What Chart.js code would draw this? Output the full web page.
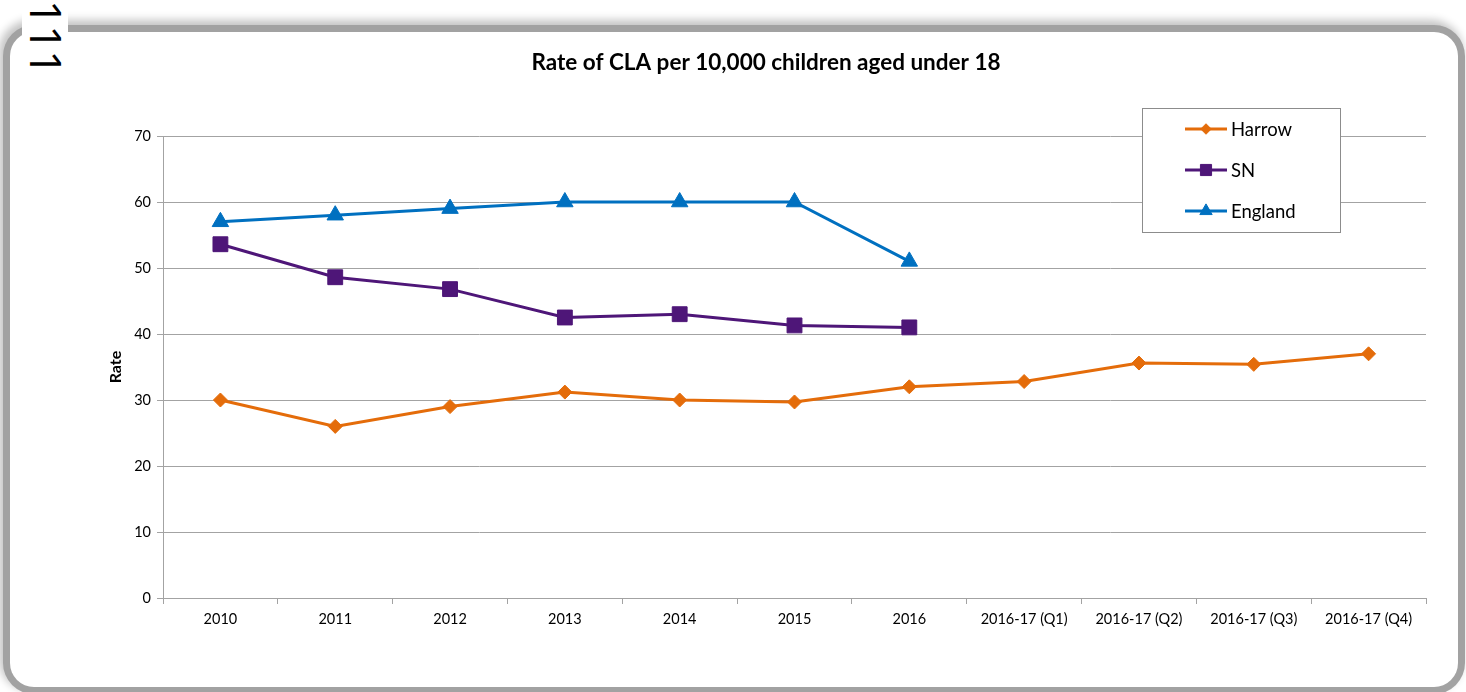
<!DOCTYPE html>
<html>
<head>
<meta charset="utf-8">
<title>Rate of CLA per 10,000 children aged under 18</title>
<script src="https://cdn.jsdelivr.net/npm/chart.js@4.4.1/dist/chart.umd.min.js"></script>
<style>
  html, body { margin: 0; padding: 0; background: #fff; }
  #page { position: relative; width: 1466px; height: 692px; overflow: hidden; background: #fff; }
  /* grey rounded frame around the chart */
  #frame {
    position: absolute; left: 10px; top: 32px; width: 1448px; height: 655px;
    background: #fff; border-radius: 24px;
    box-shadow: 0 0 0 7px #a2a2a2, -3px -4px 8px 8px #c4c4c4;
  }
  #pageNo {
    position: absolute; left: 22px; top: 0; width: 46px; height: 72px;
    background: #fff;
  }
  #pageNo span {
    position: absolute; left: 50px; top: 0px;
    transform-origin: 0 0; transform: rotate(90deg);
    font-family: "Open Sans", sans-serif; font-size: 44px; line-height: 50px;
    color: #000; white-space: nowrap;
  }
  #chart { position: absolute; left: 0; top: 0; }
</style>
</head>
<body>
<div id="page">
  <div id="frame"></div>
  <div id="pageNo"><span>111</span></div>
  <canvas id="chart" width="1466" height="692"></canvas>
</div>
<script>
// values
const categories = ['2010', '2011', '2012', '2013', '2014', '2015', '2016',
  '2016-17 (Q1)', '2016-17 (Q2)', '2016-17 (Q3)', '2016-17 (Q4)'];
const harrow = [30, 26, 29, 31.2, 30, 29.7, 32, 32.8, 35.6, 35.4, 37];
const sn = [53.6, 48.6, 46.8, 42.5, 43, 41.3, 41, null, null, null, null];
const england = [57, 58, 59, 60, 60, 60, 51, null, null, null, null];
const yTicks = [0, 10, 20, 30, 40, 50, 60, 70];

const FONT = 'Lato, "Open Sans", sans-serif';
const GRID = '#a3a3a3';

// boxed legend in the top right corner, like the Excel original
const boxLegend = {
  id: 'boxLegend',
  afterDraw(chart) {
    const ctx = chart.ctx;
    const area = chart.chartArea;
    const x = area.right - 284, y = area.top - 28, w = 198, h = 124;
    ctx.save();
    ctx.fillStyle = '#fff';
    ctx.fillRect(x, y, w, h);
    ctx.strokeStyle = '#8c8c8c';
    ctx.lineWidth = 1;
    ctx.strokeRect(x + 0.5, y + 0.5, w, h);
    chart.data.datasets.forEach((ds, i) => {
      const cy = y + 21 + i * 41;
      ctx.strokeStyle = ds.borderColor;
      ctx.fillStyle = ds.backgroundColor;
      ctx.lineWidth = 3;
      ctx.beginPath();
      ctx.moveTo(x + 43, cy);
      ctx.lineTo(x + 85, cy);
      ctx.stroke();
      ctx.lineWidth = 1;
      Chart.helpers.drawPoint(ctx, {
        pointStyle: ds.pointStyle, radius: ds.pointRadius * 0.75, rotation: 0, borderWidth: 1
      }, x + 64, cy);
      ctx.fillStyle = '#000';
      ctx.font = '18.5px ' + FONT;
      ctx.textBaseline = 'middle';
      ctx.textAlign = 'left';
      ctx.fillText(ds.label, x + 89, cy + 1);
    });
    ctx.restore();
  }
};

function series(label, data, color, style, radius) {
  return {
    label: label,
    data: data,
    borderColor: color,
    backgroundColor: color,
    borderWidth: 3,
    pointStyle: style,
    pointRadius: radius,
    pointHoverRadius: radius,
    pointBorderWidth: 1,
    tension: 0,
    spanGaps: false
  };
}

new Chart(document.getElementById('chart'), {
  type: 'line',
  data: {
    labels: categories,
    datasets: [
      series('Harrow', harrow, '#e46c0a', 'rectRot', 7),
      series('SN', sn, '#4e1678', 'rect', 10.5),
      series('England', england, '#0070c0', 'triangle', 9.5)
    ]
  },
  options: {
    responsive: false,
    animation: false,
    devicePixelRatio: 1,
    layout: { padding: { top: 49, left: 106, right: 40, bottom: 54 } },
    plugins: {
      legend: { display: false },
      tooltip: { enabled: false },
      title: {
        display: true,
        text: 'Rate of CLA per 10,000 children aged under 18',
        color: '#000',
        font: { family: FONT, size: 22.5, weight: 'bold' },
        padding: { top: 0, bottom: 60 }
      }
    },
    scales: {
      x: {
        offset: true,
        grid: { offset: true, drawOnChartArea: false, drawTicks: true, tickLength: 6, color: GRID },
        border: { display: true, color: GRID },
        ticks: { color: '#000', font: { family: FONT, size: 14.5 }, padding: 7, maxRotation: 0, autoSkip: false },
        afterFit(scale) { scale.height = 40; }
      },
      y: {
        min: 0,
        max: 70,
        afterBuildTicks(scale) { scale.ticks = yTicks.map(v => ({ value: v })); },
        grid: { color: GRID, tickLength: 6 },
        border: { display: true, color: GRID },
        ticks: { color: '#000', font: { family: FONT, size: 14.5 }, padding: 6 },
        title: {
          display: true,
          text: 'Rate',
          color: '#000',
          font: { family: FONT, size: 16, weight: 'bold' },
          padding: 0
        },
        afterFit(scale) { scale.width = 57; }
      }
    }
  },
  plugins: [boxLegend]
});
</script>
</body>
</html>
